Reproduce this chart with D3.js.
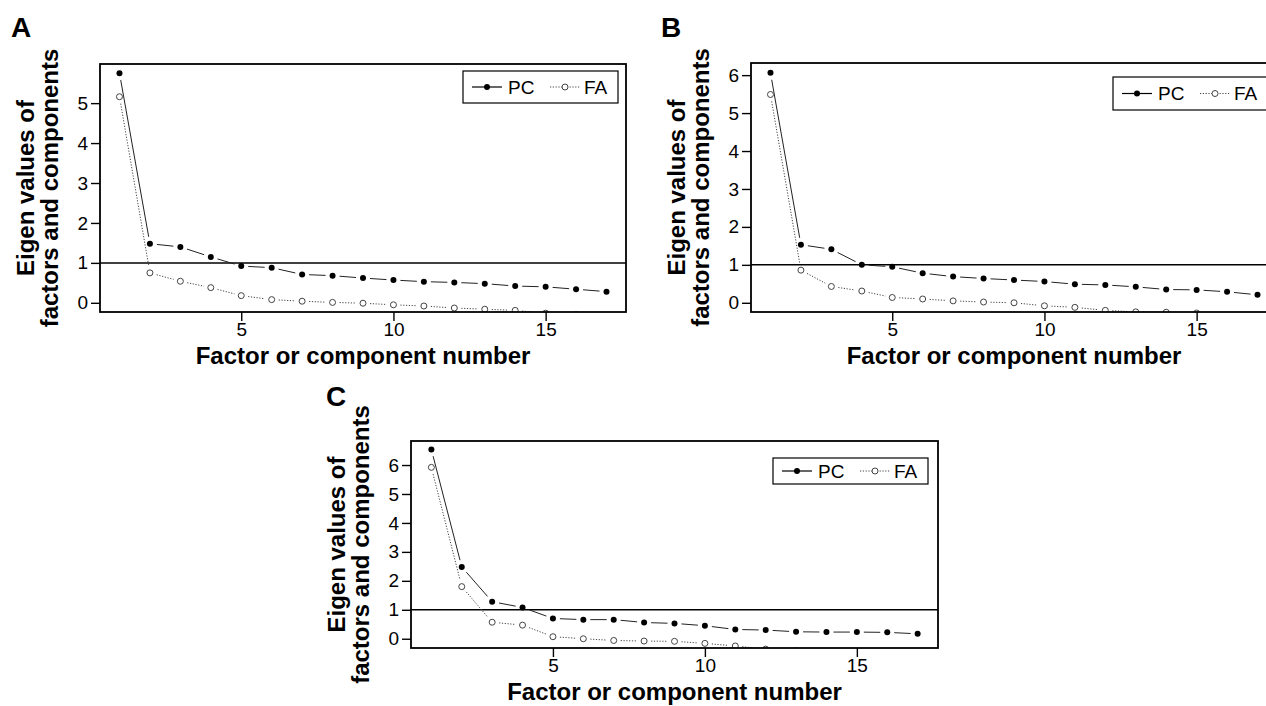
<!DOCTYPE html>
<html>
<head>
<meta charset="utf-8">
<script src="https://cdn.jsdelivr.net/npm/d3@7"></script>
<style>
  body { margin: 0; background: #fff; }
  svg { display: block; font-family: "Liberation Sans", Arial, sans-serif; }
</style>
</head>
<body>
<div id="container"></div>
<script>
// values
const factorNumbers = [1, 2, 3, 4, 5, 6, 7, 8, 9, 10, 11, 12, 13, 14, 15, 16, 17];

const pcA = [5.75, 1.48, 1.40, 1.15, 0.92, 0.88, 0.71, 0.68, 0.62, 0.57, 0.53, 0.51, 0.48, 0.42, 0.40, 0.34, 0.28];
const faA = [5.16, 0.75, 0.54, 0.38, 0.18, 0.08, 0.04, 0.01, -0.01, -0.05, -0.08, -0.13, -0.16, -0.19, -0.26, -0.30, -0.34];

const pcB = [6.06, 1.53, 1.41, 1.00, 0.95, 0.78, 0.69, 0.64, 0.60, 0.56, 0.49, 0.47, 0.42, 0.35, 0.34, 0.29, 0.21];
const faB = [5.49, 0.86, 0.43, 0.31, 0.14, 0.10, 0.05, 0.02, 0.00, -0.08, -0.12, -0.20, -0.24, -0.25, -0.27, -0.33, -0.38];

const pcC = [6.54, 2.48, 1.28, 1.08, 0.70, 0.66, 0.66, 0.56, 0.53, 0.45, 0.32, 0.30, 0.24, 0.23, 0.23, 0.22, 0.17];
const faC = [5.92, 1.80, 0.57, 0.47, 0.07, 0.00, -0.06, -0.08, -0.09, -0.16, -0.25, -0.36, -0.42, -0.47, -0.52, -0.56, -0.60];

const xTicks = [5, 10, 15];
const yTicksA = [0, 1, 2, 3, 4, 5];
const yTicksBC = [0, 1, 2, 3, 4, 5, 6];
const legendLabels = ["PC", "FA"];
const xTitle = "Factor or component number";
const yTitle = ["Eigen values of", "factors and components"];
const kaiserLine = 1;

const width = 1266;
const height = 706;

const svg = d3.select("#container")
  .append("svg")
  .attr("width", width)
  .attr("height", height);

const panels = [
  { id: "a", letter: "A", pc: pcA, fa: faA, yTicks: yTicksA,
    box: { left: 100, top: 64, right: 626, bottom: 312 },
    xDomain: [0.36, 17.64], yDomain: [-0.23, 5.98],
    letterPos: [11, 37], legend: { dx: 163, dy: 7, h: 32 } },
  { id: "b", letter: "B", pc: pcB, fa: faB, yTicks: yTicksBC,
    box: { left: 751, top: 63, right: 1277, bottom: 312 },
    xDomain: [0.36, 17.64], yDomain: [-0.243, 6.32],
    letterPos: [661, 37], legend: { dx: 164, dy: 14, h: 33 } },
  { id: "c", letter: "C", pc: pcC, fa: faC, yTicks: yTicksBC,
    box: { left: 411, top: 441, right: 938, bottom: 648 },
    xDomain: [0.33, 17.67], yDomain: [-0.32, 6.83],
    letterPos: [326, 406], legend: { dx: 165, dy: 17, h: 26 } }
];

// R type="b": segments stop short of each point
function gapSegments(pts, gap) {
  const segs = [];
  for (let i = 0; i < pts.length - 1; i++) {
    const [x0, y0] = pts[i];
    const [x1, y1] = pts[i + 1];
    const dx = x1 - x0, dy = y1 - y0;
    const len = Math.hypot(dx, dy);
    if (len <= 2 * gap) continue;
    const ux = dx / len, uy = dy / len;
    segs.push({ x1: x0 + ux * gap, y1: y0 + uy * gap, x2: x1 - ux * gap, y2: y1 - uy * gap });
  }
  return segs;
}

function drawPanel(p) {
  const b = p.box;
  const x = d3.scaleLinear().domain(p.xDomain).range([b.left, b.right]);
  const y = d3.scaleLinear().domain(p.yDomain).range([b.bottom, b.top]);

  svg.append("clipPath")
    .attr("id", `clip-${p.id}`)
    .append("rect")
    .attr("x", b.left)
    .attr("y", b.top)
    .attr("width", b.right - b.left)
    .attr("height", b.bottom - b.top);

  const g = svg.append("g");
  const plot = g.append("g").attr("clip-path", `url(#clip-${p.id})`);

  // reference line at eigenvalue 1
  plot.append("line")
    .attr("x1", b.left)
    .attr("x2", b.right)
    .attr("y1", y(kaiserLine))
    .attr("y2", y(kaiserLine))
    .attr("stroke", "#000")
    .attr("stroke-width", 1.5);

  const pcPts = factorNumbers.map((n, i) => [x(n), y(p.pc[i])]);
  const faPts = factorNumbers.map((n, i) => [x(n), y(p.fa[i])]);

  plot.selectAll(".fa-seg")
    .data(gapSegments(faPts, 7))
    .enter()
    .append("line")
    .attr("x1", d => d.x1).attr("y1", d => d.y1)
    .attr("x2", d => d.x2).attr("y2", d => d.y2)
    .attr("stroke", "#444")
    .attr("stroke-width", 1)
    .attr("stroke-dasharray", "1.2,1.6");

  plot.selectAll(".pc-seg")
    .data(gapSegments(pcPts, 7))
    .enter()
    .append("line")
    .attr("x1", d => d.x1).attr("y1", d => d.y1)
    .attr("x2", d => d.x2).attr("y2", d => d.y2)
    .attr("stroke", "#222")
    .attr("stroke-width", 1);

  plot.selectAll(".fa-pt")
    .data(faPts)
    .enter()
    .append("circle")
    .attr("cx", d => d[0])
    .attr("cy", d => d[1])
    .attr("r", 3)
    .attr("fill", "#fff")
    .attr("stroke", "#444")
    .attr("stroke-width", 1);

  plot.selectAll(".pc-pt")
    .data(pcPts)
    .enter()
    .append("circle")
    .attr("cx", d => d[0])
    .attr("cy", d => d[1])
    .attr("r", 3)
    .attr("fill", "#000");

  // axes
  const yAxis = g.append("g")
    .attr("transform", `translate(${b.left},0)`)
    .call(d3.axisLeft(y).tickValues(p.yTicks).tickSize(9).tickPadding(3).tickFormat(d3.format("d")));

  const xAxis = g.append("g")
    .attr("transform", `translate(0,${b.bottom})`)
    .call(d3.axisBottom(x).tickValues(xTicks).tickSize(9).tickPadding(2).tickFormat(d3.format("d")));

  [yAxis, xAxis].forEach(ax => {
    ax.select(".domain").remove();
    ax.selectAll("line").attr("stroke", "#000").attr("stroke-width", 1.4);
    ax.selectAll("text")
      .attr("fill", "#000")
      .style("font-size", "19px")
      .style("font-family", "'Liberation Sans', Arial, sans-serif");
  });

  // frame
  g.append("rect")
    .attr("x", b.left)
    .attr("y", b.top)
    .attr("width", b.right - b.left)
    .attr("height", b.bottom - b.top)
    .attr("fill", "none")
    .attr("stroke", "#000")
    .attr("stroke-width", 1.8);

  // legend
  const lg = g.append("g")
    .attr("transform", `translate(${b.right - p.legend.dx},${b.top + p.legend.dy})`);
  const lh = p.legend.h;

  lg.append("rect")
    .attr("width", 155)
    .attr("height", lh)
    .attr("fill", "#fff")
    .attr("stroke", "#000")
    .attr("stroke-width", 1.2);

  lg.append("line")
    .attr("x1", 9).attr("x2", 39)
    .attr("y1", lh / 2).attr("y2", lh / 2)
    .attr("stroke", "#000")
    .attr("stroke-width", 1.2);
  lg.append("circle")
    .attr("cx", 24).attr("cy", lh / 2).attr("r", 3)
    .attr("fill", "#000");

  lg.append("line")
    .attr("x1", 87).attr("x2", 117)
    .attr("y1", lh / 2).attr("y2", lh / 2)
    .attr("stroke", "#444")
    .attr("stroke-width", 1)
    .attr("stroke-dasharray", "1.2,1.6");
  lg.append("circle")
    .attr("cx", 102).attr("cy", lh / 2).attr("r", 3)
    .attr("fill", "#fff")
    .attr("stroke", "#444");

  lg.selectAll(".lg-text")
    .data(legendLabels)
    .enter()
    .append("text")
    .attr("x", (d, i) => i === 0 ? 45 : 121)
    .attr("y", lh / 2)
    .attr("dy", "0.36em")
    .style("font-size", "19px")
    .text(d => d);

  // titles
  g.append("text")
    .attr("x", (b.left + b.right) / 2)
    .attr("y", b.bottom + 52)
    .attr("text-anchor", "middle")
    .style("font-size", "24px")
    .style("font-weight", "bold")
    .text(xTitle);

  const cy = (b.top + b.bottom) / 2;
  yTitle.forEach((line, i) => {
    g.append("text")
      .attr("transform", `translate(${b.left - 66 + i * 24},${cy}) rotate(-90)`)
      .attr("text-anchor", "middle")
      .style("font-size", "24px")
      .style("font-weight", "bold")
      .text(line);
  });

  g.append("text")
    .attr("x", p.letterPos[0])
    .attr("y", p.letterPos[1])
    .style("font-size", "28px")
    .style("font-weight", "bold")
    .text(p.letter);
}

panels.forEach(drawPanel);
</script>
</body>
</html>
